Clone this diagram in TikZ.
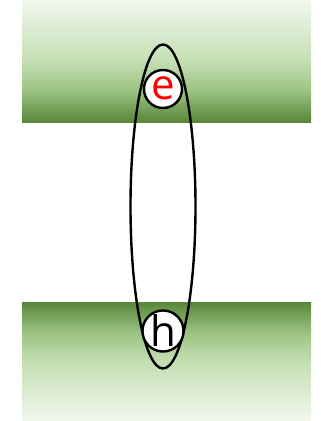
\documentclass[tikz,border=0pt]{standalone}
\usepackage{fontspec}
\setmainfont{Open Sans}
\usetikzlibrary{shapes.geometric}
\definecolor{bdark}{HTML}{588739}
\definecolor{bmid}{HTML}{9CC383}
\definecolor{blight}{HTML}{C4DFB3}
\definecolor{bwhite}{HTML}{F2F7EE}
\pgfdeclareverticalshading{bandshade}{100bp}{color(0bp)=(bdark); color(25bp)=(bdark); color(38bp)=(bmid); color(50bp)=(blight); color(75bp)=(bwhite); color(100bp)=(bwhite)}
\tikzset{
  band/.style={draw=none, shading=bandshade},
  carrier/.style={circle, draw=black, line width=2.4pt, fill=white, inner sep=0pt, minimum size=38pt, font=\fontsize{42}{42}\selectfont},
  orbit/.style={draw=black, line width=2.4pt}
}
\begin{document}
\begin{tikzpicture}[x=1pt,y=-1pt]
\useasboundingbox (0,0) rectangle (321,421);
\shade[band] (22,0) rectangle (311,122);
\shade[band, shading angle=180] (22,302) rectangle (311,421);
\node[orbit, ellipse, minimum width=65pt, minimum height=324pt, inner sep=0pt] (exc) at (163,206.5) {};
\node[carrier, text=red] (e) at (163,89) {\raisebox{1pt}{e}};
\node[carrier] (h) at (163,331) {\raisebox{-1pt}{h}};
\end{tikzpicture}
\end{document}
